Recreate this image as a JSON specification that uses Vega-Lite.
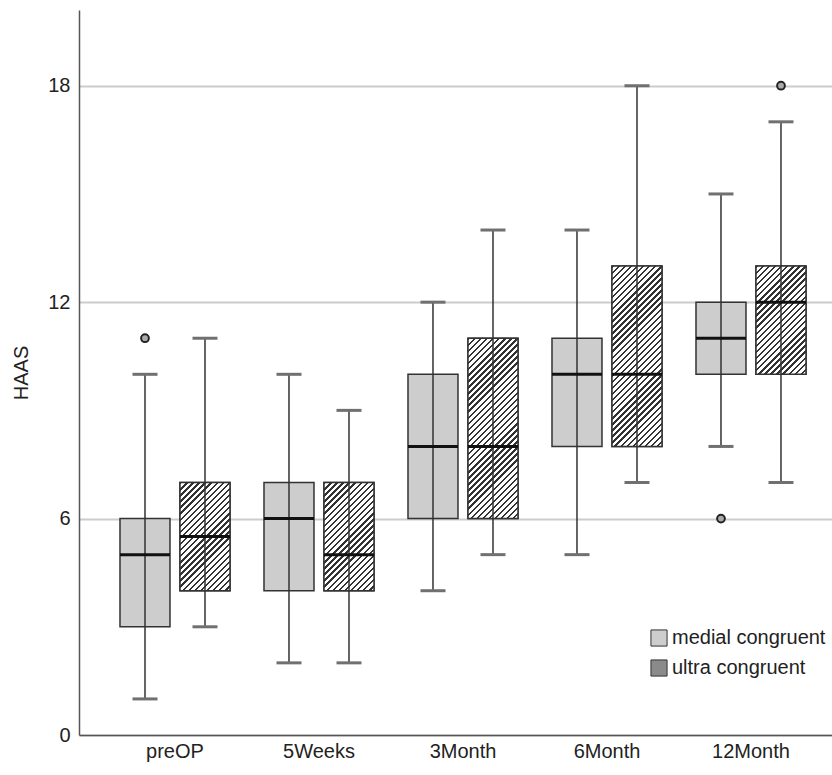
{
  "$schema": "https://vega.github.io/schema/vega-lite/v6.json",
  "width": 753,
  "height": 725,
  "autosize": {"type": "none"},
  "padding": {"left": 79, "top": 10, "right": 0, "bottom": 40},
  "background": "white",
  "config": {
    "font": "Liberation Sans",
    "view": {"stroke": null}
  },
  "datasets": {
    "boxes": [
      {"time": "preOP", "group": "medial congruent", "lower": 1, "q1": 3, "median": 5, "q3": 6, "upper": 10},
      {"time": "preOP", "group": "ultra congruent", "lower": 3, "q1": 4, "median": 5.5, "q3": 7, "upper": 11},
      {"time": "5Weeks", "group": "medial congruent", "lower": 2, "q1": 4, "median": 6, "q3": 7, "upper": 10},
      {"time": "5Weeks", "group": "ultra congruent", "lower": 2, "q1": 4, "median": 5, "q3": 7, "upper": 9},
      {"time": "3Month", "group": "medial congruent", "lower": 4, "q1": 6, "median": 8, "q3": 10, "upper": 12},
      {"time": "3Month", "group": "ultra congruent", "lower": 5, "q1": 6, "median": 8, "q3": 11, "upper": 14},
      {"time": "6Month", "group": "medial congruent", "lower": 5, "q1": 8, "median": 10, "q3": 11, "upper": 14},
      {"time": "6Month", "group": "ultra congruent", "lower": 7, "q1": 8, "median": 10, "q3": 13, "upper": 18},
      {"time": "12Month", "group": "medial congruent", "lower": 8, "q1": 10, "median": 11, "q3": 12, "upper": 15},
      {"time": "12Month", "group": "ultra congruent", "lower": 7, "q1": 10, "median": 12, "q3": 13, "upper": 17}
    ],
    "outliers": [
      {"time": "preOP", "group": "medial congruent", "value": 11},
      {"time": "12Month", "group": "medial congruent", "value": 6},
      {"time": "12Month", "group": "ultra congruent", "value": 18}
    ]
  },
  "encoding": {
    "x": {
      "field": "time", "type": "nominal",
      "sort": ["preOP", "5Weeks", "3Month", "6Month", "12Month"],
      "scale": {"paddingInner": 0, "paddingOuter": 0.1146, "align": 0.727},
      "axis": {
        "title": null, "labelAngle": 0, "labelFontSize": 20, "labelColor": "#222",
        "labelPadding": 6, "tickSize": 0, "domainColor": "#555", "domainWidth": 1.5, "grid": false
      }
    },
    "xOffset": {
      "field": "group", "type": "nominal",
      "scale": {"paddingInner": 0.1667, "paddingOuter": 0.2833}
    }
  },
  "layer": [
    {
      "data": {"name": "boxes"},
      "mark": {"type": "bar", "stroke": "#333", "strokeWidth": 1.5},
      "encoding": {
        "y": {
          "field": "q1", "type": "quantitative",
          "scale": {"domain": [0, 20.1], "nice": false, "zero": false},
          "axis": {
            "title": "HAAS", "titleFontSize": 20, "titleFontWeight": "normal", "titleColor": "#222",
            "titlePadding": 16, "values": [0, 6, 12, 18], "labelFontSize": 20, "labelColor": "#222",
            "labelPadding": 9, "tickSize": 0, "domainColor": "#555", "domainWidth": 1.5,
            "grid": true, "gridColor": "#cccccc", "gridWidth": 2
          }
        },
        "y2": {"field": "q3"},
        "color": {
          "field": "group", "type": "nominal",
          "scale": {"domain": ["medial congruent", "ultra congruent"], "range": ["#cdcdcd", "#8a8a8a"]},
          "legend": {
            "title": null, "orient": "none", "legendX": 570, "legendY": 618,
            "symbolType": "square", "symbolSize": 260, "symbolStrokeColor": "#333", "symbolStrokeWidth": 1,
            "symbolOpacity": 1, "labelFontSize": 20, "labelColor": "#222", "labelOffset": 3, "rowPadding": 8
          }
        }
      }
    },
    {
      "data": {"name": "boxes"},
      "transform": [{"filter": "datum.group == 'ultra congruent' && datum.q3 - datum.q1 < 4"}],
      "mark": {"type": "bar", "stroke": "#333", "strokeWidth": 1.5, "fill": {"gradient": "linear", "x1": 0, "y1": 0, "x2": 0.5567, "y2": 1.2048, "stops": [
        {"offset": 0, "color": "#333"}, {"offset": 0.0154, "color": "#333"}, {"offset": 0.0154, "color": "#fff"}, {"offset": 0.0385, "color": "#fff"},
        {"offset": 0.0385, "color": "#333"}, {"offset": 0.0538, "color": "#333"}, {"offset": 0.0538, "color": "#fff"}, {"offset": 0.0769, "color": "#fff"},
        {"offset": 0.0769, "color": "#333"}, {"offset": 0.0923, "color": "#333"}, {"offset": 0.0923, "color": "#fff"}, {"offset": 0.1154, "color": "#fff"},
        {"offset": 0.1154, "color": "#333"}, {"offset": 0.1308, "color": "#333"}, {"offset": 0.1308, "color": "#fff"}, {"offset": 0.1538, "color": "#fff"},
        {"offset": 0.1538, "color": "#333"}, {"offset": 0.1692, "color": "#333"}, {"offset": 0.1692, "color": "#fff"}, {"offset": 0.1923, "color": "#fff"},
        {"offset": 0.1923, "color": "#333"}, {"offset": 0.2077, "color": "#333"}, {"offset": 0.2077, "color": "#fff"}, {"offset": 0.2308, "color": "#fff"},
        {"offset": 0.2308, "color": "#333"}, {"offset": 0.2462, "color": "#333"}, {"offset": 0.2462, "color": "#fff"}, {"offset": 0.2692, "color": "#fff"},
        {"offset": 0.2692, "color": "#333"}, {"offset": 0.2846, "color": "#333"}, {"offset": 0.2846, "color": "#fff"}, {"offset": 0.3077, "color": "#fff"},
        {"offset": 0.3077, "color": "#333"}, {"offset": 0.3231, "color": "#333"}, {"offset": 0.3231, "color": "#fff"}, {"offset": 0.3462, "color": "#fff"},
        {"offset": 0.3462, "color": "#333"}, {"offset": 0.3615, "color": "#333"}, {"offset": 0.3615, "color": "#fff"}, {"offset": 0.3846, "color": "#fff"},
        {"offset": 0.3846, "color": "#333"}, {"offset": 0.4, "color": "#333"}, {"offset": 0.4, "color": "#fff"}, {"offset": 0.4231, "color": "#fff"},
        {"offset": 0.4231, "color": "#333"}, {"offset": 0.4385, "color": "#333"}, {"offset": 0.4385, "color": "#fff"}, {"offset": 0.4615, "color": "#fff"},
        {"offset": 0.4615, "color": "#333"}, {"offset": 0.4769, "color": "#333"}, {"offset": 0.4769, "color": "#fff"}, {"offset": 0.5, "color": "#fff"},
        {"offset": 0.5, "color": "#333"}, {"offset": 0.5154, "color": "#333"}, {"offset": 0.5154, "color": "#fff"}, {"offset": 0.5385, "color": "#fff"},
        {"offset": 0.5385, "color": "#333"}, {"offset": 0.5538, "color": "#333"}, {"offset": 0.5538, "color": "#fff"}, {"offset": 0.5769, "color": "#fff"},
        {"offset": 0.5769, "color": "#333"}, {"offset": 0.5923, "color": "#333"}, {"offset": 0.5923, "color": "#fff"}, {"offset": 0.6154, "color": "#fff"},
        {"offset": 0.6154, "color": "#333"}, {"offset": 0.6308, "color": "#333"}, {"offset": 0.6308, "color": "#fff"}, {"offset": 0.6538, "color": "#fff"},
        {"offset": 0.6538, "color": "#333"}, {"offset": 0.6692, "color": "#333"}, {"offset": 0.6692, "color": "#fff"}, {"offset": 0.6923, "color": "#fff"},
        {"offset": 0.6923, "color": "#333"}, {"offset": 0.7077, "color": "#333"}, {"offset": 0.7077, "color": "#fff"}, {"offset": 0.7308, "color": "#fff"},
        {"offset": 0.7308, "color": "#333"}, {"offset": 0.7462, "color": "#333"}, {"offset": 0.7462, "color": "#fff"}, {"offset": 0.7692, "color": "#fff"},
        {"offset": 0.7692, "color": "#333"}, {"offset": 0.7846, "color": "#333"}, {"offset": 0.7846, "color": "#fff"}, {"offset": 0.8077, "color": "#fff"},
        {"offset": 0.8077, "color": "#333"}, {"offset": 0.8231, "color": "#333"}, {"offset": 0.8231, "color": "#fff"}, {"offset": 0.8462, "color": "#fff"},
        {"offset": 0.8462, "color": "#333"}, {"offset": 0.8615, "color": "#333"}, {"offset": 0.8615, "color": "#fff"}, {"offset": 0.8846, "color": "#fff"},
        {"offset": 0.8846, "color": "#333"}, {"offset": 0.9, "color": "#333"}, {"offset": 0.9, "color": "#fff"}, {"offset": 0.9231, "color": "#fff"},
        {"offset": 0.9231, "color": "#333"}, {"offset": 0.9385, "color": "#333"}, {"offset": 0.9385, "color": "#fff"}, {"offset": 0.9615, "color": "#fff"},
        {"offset": 0.9615, "color": "#333"}, {"offset": 0.9769, "color": "#333"}, {"offset": 0.9769, "color": "#fff"}, {"offset": 1, "color": "#fff"}
      ]}},
      "encoding": {
        "y": {"field": "q1", "type": "quantitative"},
        "y2": {"field": "q3"}
      }
    },
    {
      "data": {"name": "boxes"},
      "transform": [{"filter": "datum.group == 'ultra congruent' && datum.q3 - datum.q1 >= 4"}],
      "mark": {"type": "bar", "stroke": "#333", "strokeWidth": 1.5, "fill": {"gradient": "linear", "x1": 0, "y1": 0, "x2": 0.3288, "y2": 1.1861, "stops": [
        {"offset": 0, "color": "#333"}, {"offset": 0.0105, "color": "#333"}, {"offset": 0.0105, "color": "#fff"}, {"offset": 0.0263, "color": "#fff"},
        {"offset": 0.0263, "color": "#333"}, {"offset": 0.0368, "color": "#333"}, {"offset": 0.0368, "color": "#fff"}, {"offset": 0.0526, "color": "#fff"},
        {"offset": 0.0526, "color": "#333"}, {"offset": 0.0632, "color": "#333"}, {"offset": 0.0632, "color": "#fff"}, {"offset": 0.0789, "color": "#fff"},
        {"offset": 0.0789, "color": "#333"}, {"offset": 0.0895, "color": "#333"}, {"offset": 0.0895, "color": "#fff"}, {"offset": 0.1053, "color": "#fff"},
        {"offset": 0.1053, "color": "#333"}, {"offset": 0.1158, "color": "#333"}, {"offset": 0.1158, "color": "#fff"}, {"offset": 0.1316, "color": "#fff"},
        {"offset": 0.1316, "color": "#333"}, {"offset": 0.1421, "color": "#333"}, {"offset": 0.1421, "color": "#fff"}, {"offset": 0.1579, "color": "#fff"},
        {"offset": 0.1579, "color": "#333"}, {"offset": 0.1684, "color": "#333"}, {"offset": 0.1684, "color": "#fff"}, {"offset": 0.1842, "color": "#fff"},
        {"offset": 0.1842, "color": "#333"}, {"offset": 0.1947, "color": "#333"}, {"offset": 0.1947, "color": "#fff"}, {"offset": 0.2105, "color": "#fff"},
        {"offset": 0.2105, "color": "#333"}, {"offset": 0.2211, "color": "#333"}, {"offset": 0.2211, "color": "#fff"}, {"offset": 0.2368, "color": "#fff"},
        {"offset": 0.2368, "color": "#333"}, {"offset": 0.2474, "color": "#333"}, {"offset": 0.2474, "color": "#fff"}, {"offset": 0.2632, "color": "#fff"},
        {"offset": 0.2632, "color": "#333"}, {"offset": 0.2737, "color": "#333"}, {"offset": 0.2737, "color": "#fff"}, {"offset": 0.2895, "color": "#fff"},
        {"offset": 0.2895, "color": "#333"}, {"offset": 0.3, "color": "#333"}, {"offset": 0.3, "color": "#fff"}, {"offset": 0.3158, "color": "#fff"},
        {"offset": 0.3158, "color": "#333"}, {"offset": 0.3263, "color": "#333"}, {"offset": 0.3263, "color": "#fff"}, {"offset": 0.3421, "color": "#fff"},
        {"offset": 0.3421, "color": "#333"}, {"offset": 0.3526, "color": "#333"}, {"offset": 0.3526, "color": "#fff"}, {"offset": 0.3684, "color": "#fff"},
        {"offset": 0.3684, "color": "#333"}, {"offset": 0.3789, "color": "#333"}, {"offset": 0.3789, "color": "#fff"}, {"offset": 0.3947, "color": "#fff"},
        {"offset": 0.3947, "color": "#333"}, {"offset": 0.4053, "color": "#333"}, {"offset": 0.4053, "color": "#fff"}, {"offset": 0.4211, "color": "#fff"},
        {"offset": 0.4211, "color": "#333"}, {"offset": 0.4316, "color": "#333"}, {"offset": 0.4316, "color": "#fff"}, {"offset": 0.4474, "color": "#fff"},
        {"offset": 0.4474, "color": "#333"}, {"offset": 0.4579, "color": "#333"}, {"offset": 0.4579, "color": "#fff"}, {"offset": 0.4737, "color": "#fff"},
        {"offset": 0.4737, "color": "#333"}, {"offset": 0.4842, "color": "#333"}, {"offset": 0.4842, "color": "#fff"}, {"offset": 0.5, "color": "#fff"},
        {"offset": 0.5, "color": "#333"}, {"offset": 0.5105, "color": "#333"}, {"offset": 0.5105, "color": "#fff"}, {"offset": 0.5263, "color": "#fff"},
        {"offset": 0.5263, "color": "#333"}, {"offset": 0.5368, "color": "#333"}, {"offset": 0.5368, "color": "#fff"}, {"offset": 0.5526, "color": "#fff"},
        {"offset": 0.5526, "color": "#333"}, {"offset": 0.5632, "color": "#333"}, {"offset": 0.5632, "color": "#fff"}, {"offset": 0.5789, "color": "#fff"},
        {"offset": 0.5789, "color": "#333"}, {"offset": 0.5895, "color": "#333"}, {"offset": 0.5895, "color": "#fff"}, {"offset": 0.6053, "color": "#fff"},
        {"offset": 0.6053, "color": "#333"}, {"offset": 0.6158, "color": "#333"}, {"offset": 0.6158, "color": "#fff"}, {"offset": 0.6316, "color": "#fff"},
        {"offset": 0.6316, "color": "#333"}, {"offset": 0.6421, "color": "#333"}, {"offset": 0.6421, "color": "#fff"}, {"offset": 0.6579, "color": "#fff"},
        {"offset": 0.6579, "color": "#333"}, {"offset": 0.6684, "color": "#333"}, {"offset": 0.6684, "color": "#fff"}, {"offset": 0.6842, "color": "#fff"},
        {"offset": 0.6842, "color": "#333"}, {"offset": 0.6947, "color": "#333"}, {"offset": 0.6947, "color": "#fff"}, {"offset": 0.7105, "color": "#fff"},
        {"offset": 0.7105, "color": "#333"}, {"offset": 0.7211, "color": "#333"}, {"offset": 0.7211, "color": "#fff"}, {"offset": 0.7368, "color": "#fff"},
        {"offset": 0.7368, "color": "#333"}, {"offset": 0.7474, "color": "#333"}, {"offset": 0.7474, "color": "#fff"}, {"offset": 0.7632, "color": "#fff"},
        {"offset": 0.7632, "color": "#333"}, {"offset": 0.7737, "color": "#333"}, {"offset": 0.7737, "color": "#fff"}, {"offset": 0.7895, "color": "#fff"},
        {"offset": 0.7895, "color": "#333"}, {"offset": 0.8, "color": "#333"}, {"offset": 0.8, "color": "#fff"}, {"offset": 0.8158, "color": "#fff"},
        {"offset": 0.8158, "color": "#333"}, {"offset": 0.8263, "color": "#333"}, {"offset": 0.8263, "color": "#fff"}, {"offset": 0.8421, "color": "#fff"},
        {"offset": 0.8421, "color": "#333"}, {"offset": 0.8526, "color": "#333"}, {"offset": 0.8526, "color": "#fff"}, {"offset": 0.8684, "color": "#fff"},
        {"offset": 0.8684, "color": "#333"}, {"offset": 0.8789, "color": "#333"}, {"offset": 0.8789, "color": "#fff"}, {"offset": 0.8947, "color": "#fff"},
        {"offset": 0.8947, "color": "#333"}, {"offset": 0.9053, "color": "#333"}, {"offset": 0.9053, "color": "#fff"}, {"offset": 0.9211, "color": "#fff"},
        {"offset": 0.9211, "color": "#333"}, {"offset": 0.9316, "color": "#333"}, {"offset": 0.9316, "color": "#fff"}, {"offset": 0.9474, "color": "#fff"},
        {"offset": 0.9474, "color": "#333"}, {"offset": 0.9579, "color": "#333"}, {"offset": 0.9579, "color": "#fff"}, {"offset": 0.9737, "color": "#fff"},
        {"offset": 0.9737, "color": "#333"}, {"offset": 0.9842, "color": "#333"}, {"offset": 0.9842, "color": "#fff"}, {"offset": 1, "color": "#fff"}
      ]}},
      "encoding": {
        "y": {"field": "q1", "type": "quantitative"},
        "y2": {"field": "q3"}
      }
    },
    {
      "data": {"name": "boxes"},
      "mark": {"type": "rule", "color": "#333", "strokeWidth": 1.5},
      "encoding": {
        "y": {"field": "lower", "type": "quantitative"},
        "y2": {"field": "upper"}
      }
    },
    {
      "data": {"name": "boxes"},
      "mark": {"type": "tick", "color": "#707070", "size": 25, "thickness": 3, "opacity": 1},
      "encoding": {"y": {"field": "lower", "type": "quantitative"}}
    },
    {
      "data": {"name": "boxes"},
      "mark": {"type": "tick", "color": "#707070", "size": 25, "thickness": 3, "opacity": 1},
      "encoding": {"y": {"field": "upper", "type": "quantitative"}}
    },
    {
      "data": {"name": "boxes"},
      "mark": {"type": "tick", "color": "#111", "size": 50, "thickness": 3, "opacity": 1},
      "encoding": {"y": {"field": "median", "type": "quantitative"}}
    },
    {
      "data": {"name": "outliers"},
      "mark": {"type": "point", "shape": "circle", "size": 60, "filled": false, "stroke": "#222", "strokeWidth": 2, "fill": "#aaa", "fillOpacity": 1, "opacity": 1},
      "encoding": {"y": {"field": "value", "type": "quantitative"}}
    }
  ]
}
